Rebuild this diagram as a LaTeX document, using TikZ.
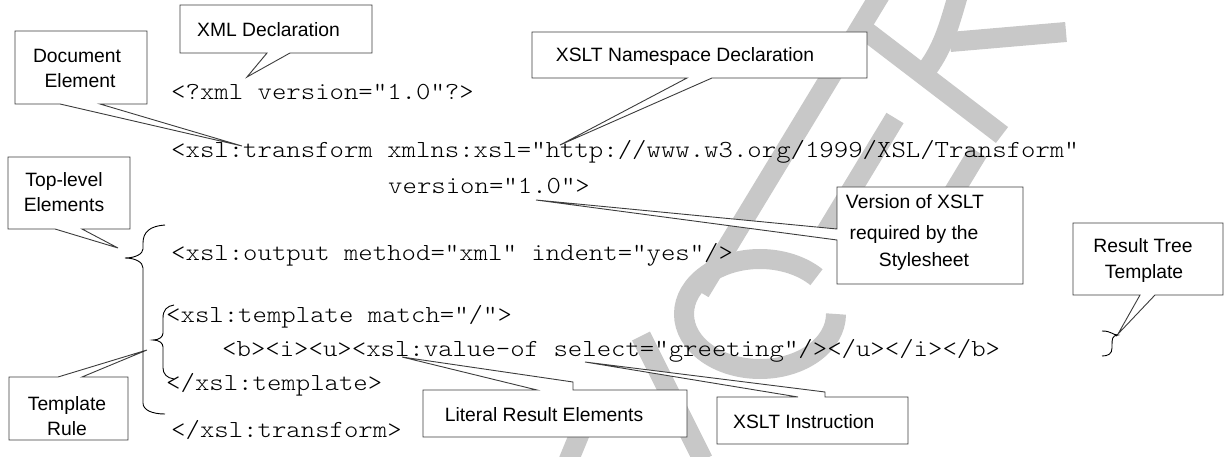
\documentclass[tikz,border=0pt]{standalone}
\usepackage{fontspec}
\setmainfont{Liberation Sans}
\newfontfamily\codefont{lmmonolt10-regular.otf}[FakeStretch=1.12]
\definecolor{wm}{RGB}{200,200,200}
\definecolor{edge}{RGB}{60,60,60}
\tikzset{
  code/.style={anchor=base west, inner sep=0pt, font={\codefont\fontsize{24.5}{28}\selectfont}},
  lbl/.style={anchor=base, inner sep=0pt, font={\fontsize{19.3}{25}\selectfont}},
  lblw/.style={anchor=base west, inner sep=0pt, font={\fontsize{19.3}{25}\selectfont}},
  callout/.style={draw=edge, fill=white, line width=0.9pt, line join=miter},
  bracepath/.style={draw=black, line width=0.9pt},
  wmark/.style={draw=wm, line width=20pt}
}
\begin{document}
\begin{tikzpicture}[x=1pt,y=-1pt]
\useasboundingbox (0,0) rectangle (1229,457);
% watermark
\draw[wmark] (880,-5) -- (700,292);
\draw[wmark] (862,28) -- (1002,135);
\draw[wmark] (958,-5) .. controls (948,30) and (942,50) .. (925,72);
\draw[wmark] (950,42) -- (1066,32);
\draw[wmark] (895,118) -- (826,232);
\draw[wmark] (978,152) -- (940,215);
\draw[wmark] (760,314) ++(0:76 and 55) arc[start angle=0, end angle=318, x radius=76, y radius=55];
\draw[wmark] (641,336) -- (703,460);
\draw[wmark] (582,428) -- (568,462);

% pointer tips
\coordinate (tXml) at (247,77);
\coordinate (tDoc) at (242,146);
\coordinate (tNs) at (560,145);
\coordinate (tTop) at (118,248);
\coordinate (tRule) at (147,350);
\coordinate (tVer) at (536,200);
\coordinate (tRes) at (1118,334);
\coordinate (tLit) at (402,357);
\coordinate (tIns) at (585,362);

% callouts
\draw[callout] (180,5) -- (372,5) -- (372,53) -- (290,53) -- (tXml) -- (267,53) -- (180,53) -- cycle;
\draw[callout] (15,31) -- (147,31) -- (147,104) -- (100,104) -- (tDoc) -- (60,104) -- (15,104) -- cycle;
\draw[callout] (532,32) -- (867,32) -- (867,78) -- (712,78) -- (tNs) -- (687,78) -- (532,78) -- cycle;
\draw[callout] (8,157) -- (130,157) -- (130,229) -- (82,229) -- (tTop) -- (55,229) -- (8,229) -- cycle;
\draw[callout] (9,377) -- (58,377) -- (tRule) -- (82,377) -- (128,377) -- (128,440) -- (9,440) -- cycle;
\draw[callout] (837,187) -- (1023,187) -- (1023,284) -- (837,284) -- (837,240) -- (tVer) -- (837,229) -- cycle;
\draw[callout] (1073,223) -- (1223,223) -- (1223,295) -- (1155,295) -- (tRes) -- (1140,295) -- (1073,295) -- cycle;
\draw[callout] (423,390) -- (537,390) -- (tLit) -- (573,382) -- (573,390) -- (687,390) -- (687,437) -- (423,437) -- cycle;
\draw[callout] (717,397) -- (798,397) -- (tIns) -- (825,392) -- (825,397) -- (908,397) -- (908,444) -- (717,444) -- cycle;

% braces
\draw[bracepath] (165,225) .. controls (150,226) and (143,232) .. (143,243) -- (143,249)
  .. controls (143,254) and (135,258) .. (125,258) .. controls (135,258) and (143,262) .. (143,268)
  -- (143,403) .. controls (143,410) and (152,414) .. (165,414);
\draw[bracepath] (174,305) .. controls (167,306) and (163,310) .. (163,318) -- (163,333)
  .. controls (163,337) and (159,340) .. (153,340) .. controls (159,340) and (163,343) .. (163,347)
  -- (163,368) .. controls (163,374) and (167,378) .. (174,379);
\draw[bracepath] (1102,331) .. controls (1112,331) and (1112,335) .. (1118,335)
  .. controls (1112,335) and (1112,340) .. (1112,345) -- (1112,348)
  .. controls (1112,354) and (1108,356) .. (1102,356);

% code
\node[code] (c1) at (171,100) {<?xml version="1.0"?>};
\node[code] (c2) at (171,158) {<xsl:transform xmlns:xsl="http://www.w3.org/1999/XSL/Transform"};
\node[code] (c3) at (388,193.5) {version="1.0">};
\node[code] (c4) at (171,260) {<xsl:output method="xml" indent="yes"/>};
\node[code] (c5) at (166,322) {<xsl:template match="/">};
\node[code] (c6) at (222,356.5) {<b><i><u><xsl:value-of select="greeting"/></u></i></b>};
\node[code] (c7) at (166,390) {</xsl:template>};
\node[code] (c8) at (171,437) {</xsl:transform>};

% labels
\node[lbl] (lXml) at (268.5,37) {XML Declaration};
\node[lbl] (lDoc1) at (77,63) {Document};
\node[lbl] (lDoc2) at (80,88) {Element};
\node[lbl] (lNs) at (685,61.5) {XSLT Namespace Declaration};
\node[lbl] (lTop1) at (64,186.5) {Top-level};
\node[lbl] (lTop2) at (64,211.5) {Elements};
\node[lbl] (lRule1) at (67,410.5) {Template};
\node[lbl] (lRule2) at (67,435) {Rule};
\node[lbl] (lVer1) at (915,208.5) {Version of XSLT};
\node[lbl] (lVer2) at (914,240) {required by the};
\node[lbl] (lVer3) at (924,266) {Stylesheet};
\node[lbl] (lRes1) at (1143,253) {Result Tree};
\node[lbl] (lRes2) at (1144,278) {Template};
\node[lbl] (lLit) at (544,421.5) {Literal Result Elements};
\node[lblw] (lIns) at (733,428) {XSLT Instruction};
\end{tikzpicture}
\end{document}
